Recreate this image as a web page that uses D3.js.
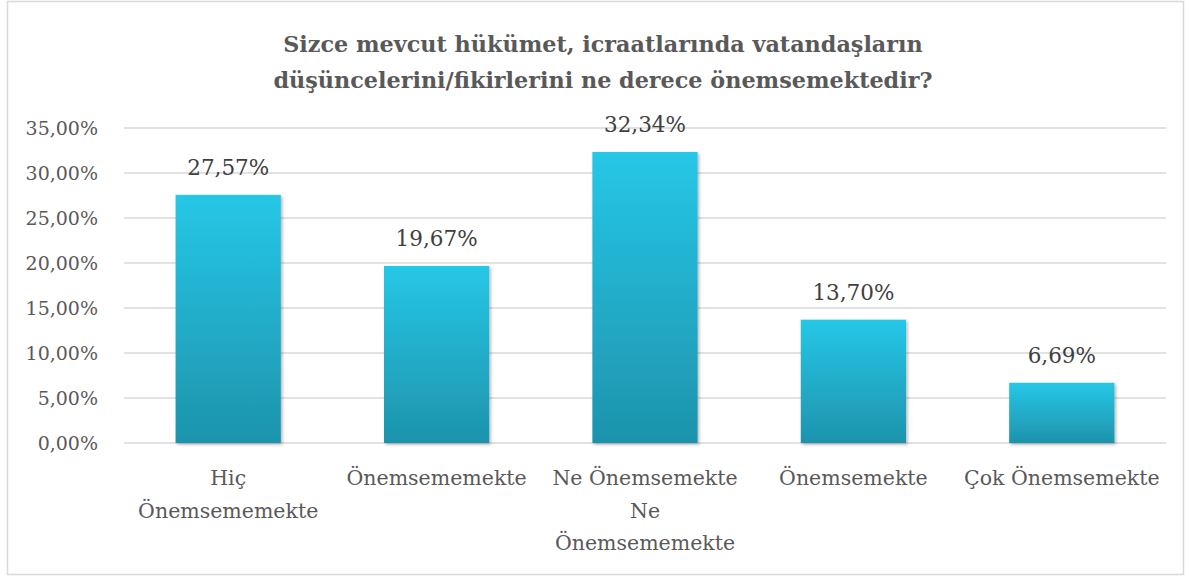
<!DOCTYPE html>
<html>
<head>
<meta charset="utf-8">
<script src="https://cdn.jsdelivr.net/npm/d3@7"></script>
<style>
  body { margin: 0; background: #fff; }
  svg { font-family: "DejaVu Serif", serif; }
</style>
</head>
<body>
<svg id="chart" width="1190" height="576"></svg>
<script>
// categories and values
var categories = ["Hiç Önemsememekte", "Önemsememekte", "Ne Önemsemekte Ne Önemsememekte", "Önemsemekte", "Çok Önemsemekte"];
var labelLines = [["Hiç", "Önemsememekte"], ["Önemsememekte"], ["Ne Önemsemekte", "Ne", "Önemsememekte"], ["Önemsemekte"], ["Çok Önemsemekte"]];
var values = [27.57, 19.67, 32.34, 13.70, 6.69];
var yTicks = [0, 5, 10, 15, 20, 25, 30, 35];
var titleLines = ["Sizce mevcut hükümet, icraatlarında vatandaşların", "düşüncelerini/fikirlerini ne derece önemsemektedir?"];

var margin = {top: 128, right: 24, bottom: 133, left: 124},
    width = 1190 - margin.left - margin.right,
    height = 576 - margin.top - margin.bottom;

var fmt = function(v) { return v.toFixed(2).replace(".", ",") + "%"; };

var svg = d3.select("#chart");

// outer frame
svg.append("rect")
    .attr("x", 7.5).attr("y", 1.5)
    .attr("width", 1176).attr("height", 573)
    .attr("fill", "#fff")
    .attr("stroke", "#d9d9d9")
    .attr("stroke-width", 1.5);

var defs = svg.append("defs");
var grad = defs.append("linearGradient")
    .attr("id", "barGrad")
    .attr("x1", 0).attr("y1", 0).attr("x2", 0).attr("y2", 1);
grad.append("stop").attr("offset", "0%").attr("stop-color", "#26c7e7");
grad.append("stop").attr("offset", "100%").attr("stop-color", "#1e93ac");

var shadow = defs.append("filter").attr("id", "shadow")
    .attr("x", "-10%").attr("y", "-10%").attr("width", "130%").attr("height", "130%");
shadow.append("feDropShadow")
    .attr("dx", 1.5).attr("dy", 1.5).attr("stdDeviation", 1.5)
    .attr("flood-color", "#000").attr("flood-opacity", 0.3);

var x = d3.scaleBand()
    .domain(categories)
    .range([0, width])
    .paddingInner(0.495)
    .paddingOuter(0.2475);

var y = d3.scaleLinear()
    .domain([0, 35])
    .range([height, 0]);

var main = svg.append("g")
    .attr("transform", "translate(" + margin.left + "," + margin.top + ")");

// gridlines
main.append("g")
    .selectAll("line")
    .data(yTicks)
  .enter().append("line")
    .attr("x1", 0).attr("x2", width)
    .attr("y1", function(d) { return y(d); })
    .attr("y2", function(d) { return y(d); })
    .attr("stroke", "#d9d9d9")
    .attr("stroke-width", 1.5);

// y axis labels
var yAxis = d3.axisLeft(y)
    .tickValues(yTicks)
    .tickSize(0)
    .tickPadding(26)
    .tickFormat(fmt);

main.append("g")
    .call(yAxis)
    .call(function(g) { g.select(".domain").remove(); })
    .selectAll("text")
    .attr("font-family", "DejaVu Serif, serif")
    .attr("font-size", 19)
    .attr("fill", "#595959")
    .attr("dy", "0.35em");

// bars
main.append("g")
    .selectAll("rect")
    .data(values)
  .enter().append("rect")
    .attr("x", function(d, i) { return x(categories[i]); })
    .attr("y", function(d) { return y(d); })
    .attr("width", x.bandwidth())
    .attr("height", function(d) { return height - y(d); })
    .attr("fill", "url(#barGrad)")
    .attr("filter", "url(#shadow)");

// value labels
main.append("g")
    .selectAll("text")
    .data(values)
  .enter().append("text")
    .attr("x", function(d, i) { return x(categories[i]) + x.bandwidth() / 2; })
    .attr("y", function(d) { return y(d) - 20; })
    .attr("text-anchor", "middle")
    .attr("font-size", 21.5)
    .attr("fill", "#404040")
    .text(fmt);

// category labels
var catG = main.append("g")
    .selectAll("text")
    .data(labelLines)
  .enter().append("text")
    .attr("text-anchor", "middle")
    .attr("font-size", 20.5)
    .attr("fill", "#595959")
    .attr("transform", function(d, i) {
      return "translate(" + (x(categories[i]) + x.bandwidth() / 2) + "," + (height + 42) + ")";
    });

catG.selectAll("tspan")
    .data(function(d) { return d; })
  .enter().append("tspan")
    .attr("x", 0)
    .attr("y", function(d, i) { return i * 32.5; })
    .text(function(d) { return d; });

// title
svg.append("g")
    .selectAll("text")
    .data(titleLines)
  .enter().append("text")
    .attr("x", 603)
    .attr("y", function(d, i) { return 52 + i * 35.5; })
    .attr("text-anchor", "middle")
    .attr("font-size", 22.3)
    .attr("font-weight", "bold")
    .attr("fill", "#595959")
    .text(function(d) { return d; });
</script>
</body>
</html>
